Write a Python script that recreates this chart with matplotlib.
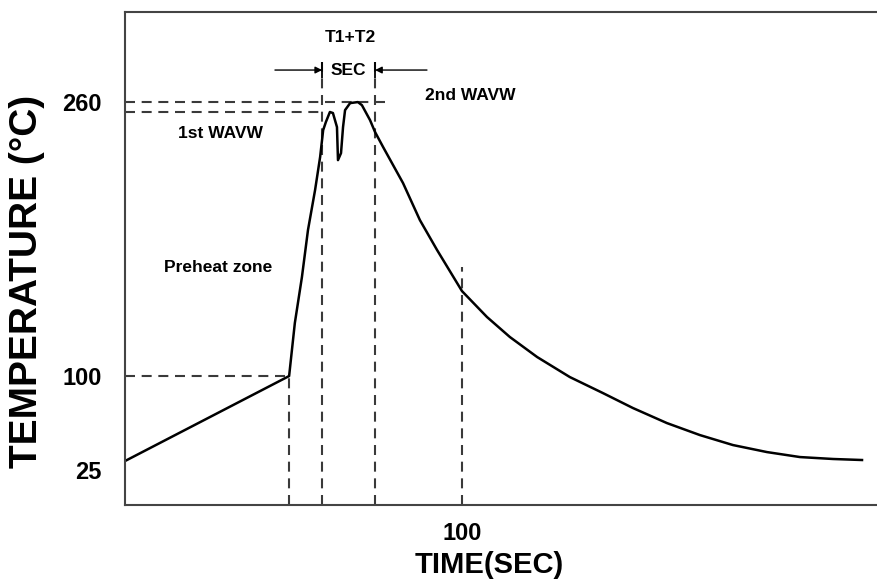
import numpy as np
import matplotlib
matplotlib.use("Agg")
import matplotlib.pyplot as plt
from matplotlib.transforms import ScaledTranslation

plt.rcParams['font.family'] = ['Liberation Sans', 'DejaVu Sans']
plt.rcParams['lines.scale_dashes'] = False

# soldering profile (time in s, temperature in degC)
time_s = [0.0, 48.7, 50.4, 52.5, 54.3, 56.4, 57.9, 58.8, 59.6, 60.8, 61.7,
          62.9, 63.2, 64.1, 64.7, 65.3, 66.8, 69.1, 70.3, 72.7, 74.2, 76.6,
          82.5, 87.5, 92.6, 100.0, 107.4, 114.2, 122.3, 132.0, 141.8, 150.7,
          160.8, 170.6, 180.4, 190.5, 200.3, 210.1, 218.7]
temp_c = [25.0, 100.0, 131.0, 157.8, 185.3, 208.6, 227.9, 243.6, 248.3, 254.2,
          253.6, 245.4, 226.1, 230.2, 245.4, 255.3, 259.4, 260.0, 258.2, 249.5,
          242.5, 233.7, 212.7, 191.1, 173.6, 149.6, 134.5, 122.8, 111.1, 99.1,
          85.0, 71.8, 58.5, 47.9, 39.1, 32.9, 28.5, 26.8, 25.9]

ytick_vals = [25, 100, 260]
ytick_labels = ["25", "100", "260"]
xtick_vals = [100]
xtick_labels = ["100"]

t_preheat = 48.7      # end of preheat (100 degC)
t1_start = 58.5       # start of T1+T2 window
t2_end = 74.2         # end of T1+T2 window
t_mark = 100.0
peak_1st = 254.0
peak_2nd = 260.0
preheat_temp = 100.0


# the sketch uses two different vertical scales, below and above 100 degC
def fwd(T):
    T = np.asarray(T, dtype=float)
    return np.where(T < 100, 129 - (100 - T) * 1.1333, 129 + (T - 100) * 1.7125)


def inv(p):
    p = np.asarray(p, dtype=float)
    return np.where(p < 129, 100 - (129 - p) / 1.1333, 100 + (p - 129) / 1.7125)


fig = plt.figure(figsize=(8.77, 5.83), dpi=100)
ax = fig.add_axes([125 / 877, 78 / 583, 752 / 877, 493 / 583])
ax.set_yscale('function', functions=(fwd, inv))
ax.set_xlim(0, 752 / 3.37)
ax.set_ylim(-13.8, 312.6)

dash = dict(color='#3a3a3a', lw=1.5, dashes=(7.2, 4.8))

# guide lines
ax.plot([0, t_preheat], [preheat_temp, preheat_temp], **dash)
ax.plot([0, 78.0], [peak_2nd, peak_2nd], **dash)
ax.plot([0, t1_start], [peak_1st, peak_1st], **dash)
ax.plot([t_preheat, t_preheat], [-13.8, preheat_temp], **dash)
ax.plot([t1_start, t1_start], [-13.8, 283.4], **dash)
ax.plot([t2_end, t2_end], [-13.8, 283.4], **dash)
ax.plot([t_mark, t_mark], [-13.8, 163.6], **dash)

# profile
ax.plot(time_s, temp_c, color='black', lw=1.8, solid_joinstyle='round')

# SEC arrows
arr_y = 278.7
ax.annotate('', xy=(t1_start, arr_y), xytext=(44.5, arr_y),
            arrowprops=dict(arrowstyle='-|>', color='black', lw=1.0,
                            mutation_scale=10, shrinkA=0, shrinkB=0))
ax.annotate('', xy=(t2_end, arr_y), xytext=(89.6, arr_y),
            arrowprops=dict(arrowstyle='-|>', color='black', lw=1.0,
                            mutation_scale=10, shrinkA=0, shrinkB=0))
ax.plot([t1_start, t2_end], [arr_y, arr_y], ls='none', marker='|',
        ms=11, mew=1.3, color='black')

small = dict(fontsize=12.5, fontweight='bold', ha='center', va='center')
ax.text(66.8, 298, "T1+T2", **small)
ax.text(66.3, arr_y, "SEC", **small)
ax.text(102.4, 264.1, "2nd WAVW", **small)
ax.text(28.2, 241.9, "1st WAVW", **small)
ax.text(27.6, 163.1, "Preheat zone", **small)

ax.set_yticks(ytick_vals)
ax.set_yticklabels(ytick_labels)
ax.set_xticks(xtick_vals)
ax.set_xticklabels(xtick_labels)
ax.tick_params(length=0, labelsize=17, pad=12)
ax.tick_params(axis='y', pad=17)
for lab in ax.get_xticklabels() + ax.get_yticklabels():
    lab.set_fontweight('bold')
# the "25" label sits a little below its level in the original
lab25 = ax.get_yticklabels()[0]
lab25.set_transform(lab25.get_transform() + ScaledTranslation(0, -0.09, fig.dpi_scale_trans))

ax.set_xlabel("TIME(SEC)", fontsize=21, fontweight='bold')
ax.xaxis.set_label_coords(0.485, -0.093)
ax.set_ylabel("TEMPERATURE (°C)", fontsize=28, fontweight='bold')
ax.yaxis.set_label_coords(-0.106, 0.454)

for side in ['left', 'bottom', 'top']:
    ax.spines[side].set_color('#444444')
    ax.spines[side].set_linewidth(1.5)
ax.spines['right'].set_visible(False)

fig.savefig("out.png", dpi=100)
